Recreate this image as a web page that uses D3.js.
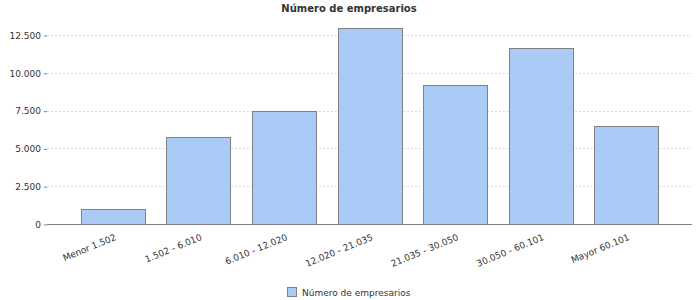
<!DOCTYPE html>
<html><head><meta charset="utf-8">
<script src="https://cdn.jsdelivr.net/npm/d3@7"></script>
<style>body{margin:0;background:#fff}</style>
</head><body><svg id="c" width="700" height="300"></svg>
<script>
const categories = ["Menor 1.502","1.502 - 6.010","6.010 - 12.020","12.020 - 21.035","21.035 - 30.050","30.050 - 60.101","Mayor 60.101"];
const values = [970, 5750, 7450, 12950, 9170, 11620, 6460];
const yTicks = [0, 2500, 5000, 7500, 10000, 12500];
const title = "Número de empresarios";
const seriesName = "Número de empresarios";

const svg = d3.select("#c");
const L = 47, R = 692, B = 224;
const font = "DejaVu Sans";
const fmt = d => d3.format(",")(d).replace(/,/g, ".");

const x = d3.scaleBand().domain(categories).range([L, R]).paddingInner(0.253).paddingOuter(0.397);
// 12.500 sits at 35px, 0 at 224px
const yS = d3.scaleLinear().domain([0, 12500]).range([B, 35]);

// gridlines
svg.append("g").selectAll("line").data(yTicks.filter(d => d > 0)).join("line")
  .attr("x1", L).attr("x2", R).attr("y1", d => Math.round(yS(d)) + 0.5).attr("y2", d => Math.round(yS(d)) + 0.5)
  .attr("stroke", "#dcdcdc").attr("stroke-dasharray", "2,2").attr("stroke-width", 1);

// y axis labels and ticks
const yAxis = d3.axisLeft(yS).tickValues(yTicks).tickSize(3).tickPadding(3).tickFormat(fmt);
const ya = svg.append("g").attr("transform", `translate(${L},0.5)`).call(yAxis);
ya.select(".domain").remove();
ya.selectAll(".tick line").attr("stroke", "#808080");
ya.selectAll("text").attr("font-family", font).attr("font-size", 9).attr("fill", "#333");

// bars
svg.append("g").selectAll("rect").data(values).join("rect")
  .attr("x", (d, i) => Math.round(x(categories[i])) + 0.5)
  .attr("y", d => Math.round(yS(d)) + 0.5)
  .attr("width", Math.round(x.bandwidth()))
  .attr("height", d => Math.round(B - yS(d)))
  .attr("fill", "#a9cbf5").attr("stroke", "#808080").attr("stroke-width", 1);

// x axis
const xAxis = d3.axisBottom(x).tickSize(0).tickPadding(0);
const xa = svg.append("g").attr("transform", `translate(0,${B + 0.5})`).call(xAxis);
xa.select(".domain").attr("stroke", "#808080").attr("d", `M${L},0H${R}`);
xa.selectAll(".tick text")
  .attr("font-family", font).attr("font-size", 9).attr("fill", "#333")
  .attr("text-anchor", "end").attr("dy", null).attr("y", null)
  .attr("transform", "translate(4,15) rotate(-22.5)");

// title
svg.append("text").attr("x", 349).attr("y", 12).attr("text-anchor", "middle")
  .attr("font-family", font).attr("font-weight", "bold").attr("font-size", 10).attr("fill", "#333")
  .text(title);

// legend
const lg = svg.append("g");
lg.append("rect").attr("x", 287.5).attr("y", 287.5).attr("width", 9).attr("height", 9)
  .attr("fill", "#a9cbf5").attr("stroke", "#808080");
lg.append("text").attr("x", 302).attr("y", 295.5).attr("font-family", font).attr("font-size", 9)
  .attr("fill", "#333").text(seriesName);
</script></body></html>
